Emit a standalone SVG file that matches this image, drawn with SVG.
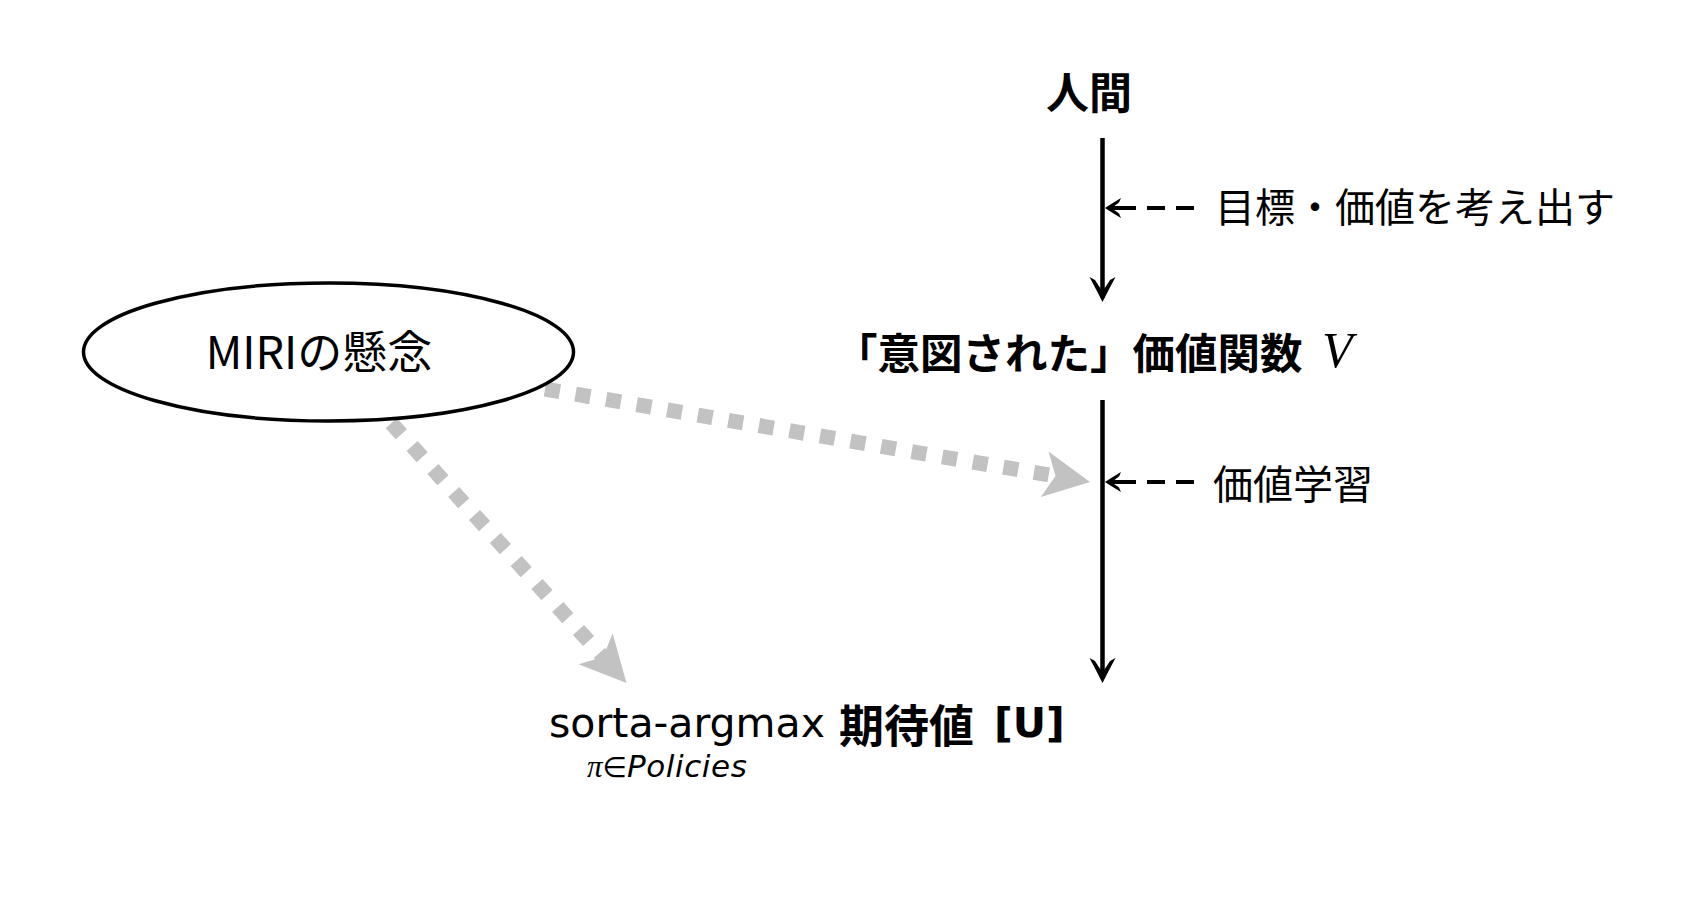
<svg xmlns="http://www.w3.org/2000/svg" width="1706" height="922" viewBox="0 0 1706 922">
<style>
.jp{font-family:"Noto Sans CJK JP","Noto Sans",sans-serif;fill:#000}
.b{font-weight:bold}
.blk{stroke:#000;fill:none}
.gray{stroke:#c2c2c2;stroke-width:15;stroke-dasharray:15 16;fill:none}
</style>
<defs>
<marker id="bigHead" markerUnits="userSpaceOnUse" markerWidth="60" markerHeight="60" viewBox="-30 -30 60 60" refX="0" refY="0" orient="auto">
<path d="M4,0 Q-6,-5 -21,-13 L-18,-7.5 Q-10,-2.5 -7,0 Q-10,2.5 -18,7.5 L-21,13 Q-6,5 4,0 Z" fill="#000"/>
</marker>
<marker id="smallHead" markerUnits="userSpaceOnUse" markerWidth="40" markerHeight="40" viewBox="-20 -20 40 40" refX="0" refY="0" orient="auto">
<path d="M3,0 Q-3,-4 -13,-10 L-11,-5.5 Q-6,-2 -4,0 Q-6,2 -11,5.5 L-13,10 Q-3,4 3,0 Z" fill="#000"/>
</marker>
<marker id="grayHead" markerUnits="userSpaceOnUse" markerWidth="100" markerHeight="100" viewBox="-50 -50 100 100" refX="0" refY="0" orient="auto">
<path d="M35,0 L-11,-23 L0,0 L-11,23 Z" fill="#c2c2c2"/>
</marker>
</defs>
<rect width="1706" height="922" fill="#ffffff"/>
<g id="connectors">
<line class="blk" x1="1102.5" y1="138" x2="1102.5" y2="298" stroke-width="4.5" marker-end="url(#bigHead)"/>
<line class="blk" x1="1102.5" y1="400" x2="1102.5" y2="679" stroke-width="4.5" marker-end="url(#bigHead)"/>
<path class="blk" d="M1194 208 H1176 M1165 208 H1147 M1136 208 H1108" stroke-width="4.2" marker-end="url(#smallHead)"/>
<path class="blk" d="M1194 482 H1176 M1165 482 H1147 M1136 482 H1108" stroke-width="4.2" marker-end="url(#smallHead)"/>
<path class="gray" d="M545 389 L1055.5 476.1" marker-end="url(#grayHead)"/>
<path class="gray" d="M391.3 423.1 L603 657" marker-end="url(#grayHead)"/>
</g>
<g id="node-miri">
<ellipse cx="328.5" cy="352" rx="245" ry="69" fill="none" stroke="#000" stroke-width="3.5"/>
<text class="jp" x="319" y="349" font-size="45" text-anchor="middle" dominant-baseline="central">MIRIの懸念</text>
</g>
<g id="node-human">
<text class="jp b" x="1089" y="90" font-size="43" text-anchor="middle" dominant-baseline="central">人間</text>
</g>
<g id="label-goals">
<text class="jp" x="1215" y="205" font-size="40" dominant-baseline="central">目標・価値を考え出す</text>
</g>
<g id="node-intended">
<text class="jp b" x="835" y="350" font-size="42.5" dominant-baseline="central">「意図された」価値関数</text>
<text x="1322" y="367" font-size="50" font-style="italic" font-family="'Liberation Serif',serif">V</text>
</g>
<g id="label-learning">
<text class="jp" x="1213" y="482" font-size="40" dominant-baseline="central">価値学習</text>
</g>
<g id="node-argmax">
<text x="549" y="737" font-size="41" font-family="'DejaVu Sans',sans-serif">sorta-argmax</text>
<text class="jp b" x="839" y="723" font-size="45" dominant-baseline="central">期待値</text>
<text x="994" y="737" font-size="41" font-weight="bold" font-family="'DejaVu Sans',sans-serif">[U]</text>
<text x="587" y="777" font-size="31"><tspan font-family="'Liberation Serif',serif" font-style="italic">π</tspan><tspan font-family="'DejaVu Sans',sans-serif" font-size="28">∈</tspan><tspan font-family="'DejaVu Sans',sans-serif" font-style="italic" letter-spacing="0.6">Policies</tspan></text>
</g>
</svg>
